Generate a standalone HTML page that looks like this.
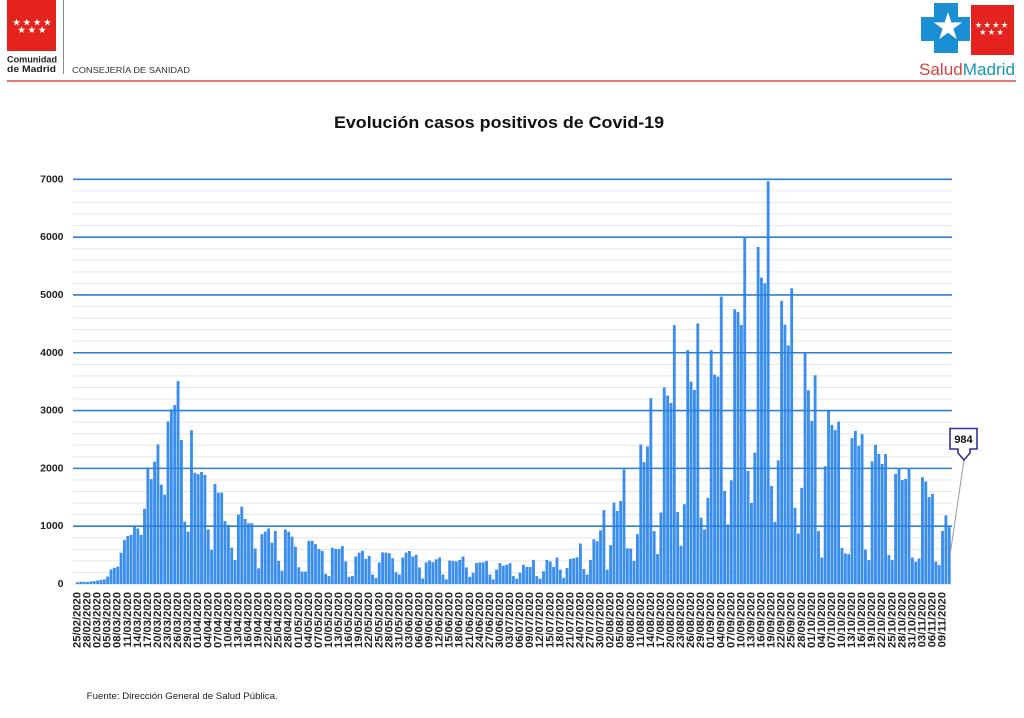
<!DOCTYPE html>
<html><head><meta charset="utf-8">
<style>
html,body{margin:0;padding:0;background:#fff;width:1024px;height:718px;overflow:hidden}
svg{display:block}
</style></head>
<body>
<svg width="1024" height="718" viewBox="0 0 1024 718" xmlns="http://www.w3.org/2000/svg" font-family="'Liberation Sans', sans-serif">
<defs>
<path id="st" d="M0,-1 L0.224,-0.309 L0.951,-0.309 L0.363,0.118 L0.588,0.809 L0,0.382 L-0.588,0.809 L-0.363,0.118 L-0.951,-0.309 L-0.224,-0.309Z" fill="#fff"/>
</defs>

<!-- Left header logo -->
<rect x="7" y="0" width="49" height="51" fill="#e4231e"/>
<use href="#st" transform="translate(16.5,22.5) scale(3.9)"/>
<use href="#st" transform="translate(26.8,22.5) scale(3.9)"/>
<use href="#st" transform="translate(37.1,22.5) scale(3.9)"/>
<use href="#st" transform="translate(47.4,22.5) scale(3.9)"/>
<use href="#st" transform="translate(21.6,30) scale(3.9)"/>
<use href="#st" transform="translate(31.9,30) scale(3.9)"/>
<use href="#st" transform="translate(42.2,30) scale(3.9)"/>
<text x="7" y="62.5" font-size="9.5" font-weight="bold" fill="#222" textLength="50" lengthAdjust="spacingAndGlyphs">Comunidad</text>
<text x="7" y="72" font-size="9.5" font-weight="bold" fill="#222" textLength="49" lengthAdjust="spacingAndGlyphs">de Madrid</text>
<line x1="63.5" y1="0" x2="63.5" y2="74" stroke="#8a8a8a" stroke-width="1"/>
<text x="72" y="73" font-size="8.6" fill="#333" textLength="118" lengthAdjust="spacingAndGlyphs">CONSEJERÍA DE SANIDAD</text>
<line x1="7" y1="81" x2="1016" y2="81" stroke="#dc4a45" stroke-width="1.6"/>

<!-- Right header logo -->
<path d="M934,3 H958 V17 H970 V41 H958 V53 H934 V41 H921 V17 H934 Z" fill="#1a8fd3"/>
<use href="#st" transform="translate(948,27) scale(15)"/>
<rect x="971" y="5" width="43" height="50" fill="#e4231e"/>
<use href="#st" transform="translate(978.5,25) scale(3.4)"/>
<use href="#st" transform="translate(987.2,25) scale(3.4)"/>
<use href="#st" transform="translate(995.9,25) scale(3.4)"/>
<use href="#st" transform="translate(1004.6,25) scale(3.4)"/>
<use href="#st" transform="translate(982.8,32.3) scale(3.4)"/>
<use href="#st" transform="translate(991.5,32.3) scale(3.4)"/>
<use href="#st" transform="translate(1000.2,32.3) scale(3.4)"/>
<text x="919" y="75" font-size="16.5" textLength="96" lengthAdjust="spacingAndGlyphs"><tspan fill="#d8443c">Salud</tspan><tspan fill="#1796b5">Madrid</tspan></text>

<!-- Title -->
<text x="334" y="128" font-size="17" font-weight="bold" fill="#111" textLength="330" lengthAdjust="spacingAndGlyphs">Evolución casos positivos de Covid-19</text>

<!-- Minor gridlines -->
<g transform="translate(0,584) scale(1,-0.05781)">
<path vector-effect="non-scaling-stroke" stroke="#e6e6e6" stroke-width="1" fill="none" d="M73,200H952M73,400H952M73,600H952M73,800H952M73,1200H952M73,1400H952M73,1600H952M73,1800H952M73,2200H952M73,2400H952M73,2600H952M73,2800H952M73,3200H952M73,3400H952M73,3600H952M73,3800H952M73,4200H952M73,4400H952M73,4600H952M73,4800H952M73,5200H952M73,5400H952M73,5600H952M73,5800H952M73,6200H952M73,6400H952M73,6600H952M73,6800H952"/>
<path vector-effect="non-scaling-stroke" stroke="#d9d9d9" stroke-width="1" fill="none" d="M73,0H952"/>
<!-- Bars -->
<path fill="#3a8ef0" d="M76.05,0 v30h2.85v-30h.503v40h2.85v-40h.503v40h2.85v-40h.503v35h2.85v-35h.503v45h2.85v-45h.503v50h2.85v-50h.503v60h2.85v-60h.503v70h2.85v-70h.503v80h2.85v-80h.503v130h2.85v-130h.503v250h2.85v-250h.503v280h2.85v-280h.503v300h2.85v-300h.503
v540h2.85v-540h.503v760h2.85v-760h.503v830h2.85v-830h.503v850h2.85v-850h.503v1000h2.85v-1000h.503v960h2.85v-960h.503v850h2.85v-850h.503v1300h2.85v-1300h.503v2010h2.85v-2010h.503v1815h2.85v-1815h.503v2115h2.85v-2115h.503v2415h2.85v-2415h.503v1720h2.85v-1720h.503v1545h2.85v-1545h.503v2810h2.85v-2810h.503v3020h2.85v-3020h.503v3095h2.85v-3095h.503v3510h2.85v-3510h.503v2490h2.85v-2490h.503v1080h2.85v-1080h.503v905h2.85v-905h.503v2660h2.85v-2660h.503v1925h2.85v-1925h.503v1900h2.85v-1900h.503v1940h2.85v-1940h.503v1885h2.85v-1885h.503v945h2.85v-945h.503v590h2.85v-590h.503v1730h2.85v-1730h.503v1580h2.85v-1580h.503v1580h2.85v-1580h.503v1090h2.85v-1090h.503v1020h2.85v-1020h.503v630h2.85v-630h.503v415h2.85v-415h.503v1205h2.85v-1205h.503v1337h2.85v-1337h.503v1125h2.85v-1125h.503v1050h2.85v-1050h.503v1050h2.85v-1050h.503v615h2.85v-615h.503v270h2.85v-270h.503v860h2.85v-860h.503v905h2.85v-905h.503v960h2.85v-960h.503v715h2.85v-715h.503v920h2.85v-920h.503v400h2.85v-400h.503v230h2.85v-230h.503v945h2.85v-945h.503v905h2.85v-905h.503v820h2.85v-820h.503v645h2.85v-645h.503v290h2.85v-290h.503v215h2.85v-215h.503v215h2.85v-215h.503v745h2.85v-745h.503v745h2.85v-745h.503v690h2.85v-690h.503v605h2.85v-605h.503
v576h2.85v-576h.503v175h2.85v-175h.503v136h2.85v-136h.503v627h2.85v-627h.503v605h2.85v-605h.503v605h2.85v-605h.503v655h2.85v-655h.503v390h2.85v-390h.503v124h2.85v-124h.503v136h2.85v-136h.503v475h2.85v-475h.503v542h2.85v-542h.503v576h2.85v-576h.503v435h2.85v-435h.503v486h2.85v-486h.503v164h2.85v-164h.503v107h2.85v-107h.503v373h2.85v-373h.503v548h2.85v-548h.503v542h2.85v-542h.503v531h2.85v-531h.503v446h2.85v-446h.503v203h2.85v-203h.503v164h2.85v-164h.503v458h2.85v-458h.503v542h2.85v-542h.503v570h2.85v-570h.503v475h2.85v-475h.503v503h2.85v-503h.503v288h2.85v-288h.503v96h2.85v-96h.503v373h2.85v-373h.503v407h2.85v-407h.503v379h2.85v-379h.503v429h2.85v-429h.503v458h2.85v-458h.503v164h2.85v-164h.503v79h2.85v-79h.503v407h2.85v-407h.503v401h2.85v-401h.503v390h2.85v-390h.503v418h2.85v-418h.503v475h2.85v-475h.503v288h2.85v-288h.503v124h2.85v-124h.503v192h2.85v-192h.503v362h2.85v-362h.503v373h2.85v-373h.503v373h2.85v-373h.503v401h2.85v-401h.503v164h2.85v-164h.503v79h2.85v-79h.503v249h2.85v-249h.503v362h2.85v-362h.503v316h2.85v-316h.503v333h2.85v-333h.503v362h2.85v-362h.503v136h2.85v-136h.503v90h2.85v-90h.503v192h2.85v-192h.503v333h2.85v-333h.503v294h2.85v-294h.503v294h2.85v-294h.503v418h2.85v-418h.503v136h2.85v-136h.503v90h2.85v-90h.503v220h2.85v-220h.503v418h2.85v-418h.503v390h2.85v-390h.503v294h2.85v-294h.503v458h2.85v-458h.503v249h2.85v-249h.503v107h2.85v-107h.503v277h2.85v-277h.503v435h2.85v-435h.503v446h2.85v-446h.503v463h2.85v-463h.503v700h2.85v-700h.503v260h2.85v-260h.503v164h2.85v-164h.503v418h2.85v-418h.503v774h2.85v-774h.503v740h2.85v-740h.503v927h2.85v-927h.503v1277h2.85v-1277h.503v249h2.85v-249h.503v672h2.85v-672h.503v1407h2.85v-1407h.503v1265h2.85v-1265h.503v1435h2.85v-1435h.503v1980h2.85v-1980h.503
v616h2.85v-616h.503
v615h2.85v-615h.503v397h2.85v-397h.503v862h2.85v-862h.503v2414h2.85v-2414h.503v2109h2.85v-2109h.503v2379h2.85v-2379h.503v3213h2.85v-3213h.503v914h2.85v-914h.503v517h2.85v-517h.503v1236h2.85v-1236h.503v3402h2.85v-3402h.503v3259h2.85v-3259h.503v3132h2.85v-3132h.503v4477h2.85v-4477h.503v1247h2.85v-1247h.503v661h2.85v-661h.503v1379h2.85v-1379h.503v4046h2.85v-4046h.503v3500h2.85v-3500h.503v3356h2.85v-3356h.503v4506h2.85v-4506h.503v1149h2.85v-1149h.503v943h2.85v-943h.503v1489h2.85v-1489h.503v4046h2.85v-4046h.503v3621h2.85v-3621h.503v3586h2.85v-3586h.503v4970h2.85v-4970h.503v1609h2.85v-1609h.503v1029h2.85v-1029h.503v1793h2.85v-1793h.503v4753h2.85v-4753h.503v4707h2.85v-4707h.503v4483h2.85v-4483h.503v6000h2.85v-6000h.503v1954h2.85v-1954h.503v1402h2.85v-1402h.503v2270h2.85v-2270h.503v5830h2.85v-5830h.503v5300h2.85v-5300h.503v5200h2.85v-5200h.503v6970h2.85v-6970h.503v1695h2.85v-1695h.503v1075h2.85v-1075h.503v2138h2.85v-2138h.503
v4897h2.85v-4897h.503v4484h2.85v-4484h.503v4128h2.85v-4128h.503v5115h2.85v-5115h.503v1319h2.85v-1319h.503v872h2.85v-872h.503v1663h2.85v-1663h.503v3997h2.85v-3997h.503v3349h2.85v-3349h.503v2821h2.85v-2821h.503v3612h2.85v-3612h.503v917h2.85v-917h.503v459h2.85v-459h.503v2036h2.85v-2036h.503v2993h2.85v-2993h.503v2752h2.85v-2752h.503v2661h2.85v-2661h.503v2810h2.85v-2810h.503v625h2.85v-625h.503v528h2.85v-528h.503v516h2.85v-516h.503v2523h2.85v-2523h.503v2649h2.85v-2649h.503v2391h2.85v-2391h.503v2592h2.85v-2592h.503v596h2.85v-596h.503v413h2.85v-413h.503v2122h2.85v-2122h.503v2408h2.85v-2408h.503v2248h2.85v-2248h.503v2076h2.85v-2076h.503v2248h2.85v-2248h.503v499h2.85v-499h.503v413h2.85v-413h.503v1904h2.85v-1904h.503v1990h2.85v-1990h.503v1800h2.85v-1800h.503v1818h2.85v-1818h.503v1990h2.85v-1990h.503v459h2.85v-459h.503v384h2.85v-384h.503v442h2.85v-442h.503v1846h2.85v-1846h.503v1772h2.85v-1772h.503v1502h2.85v-1502h.503v1560h2.85v-1560h.503v384h2.85v-384h.503v327h2.85v-327h.503v917h2.85v-917h.503v1187h2.85v-1187h.503v984h2.85v-984h.503 Z"/>
<!-- Major gridlines (on top) -->
<path vector-effect="non-scaling-stroke" stroke="#2f7fd6" stroke-width="1.6" fill="none" d="M73,1000H952M73,2000H952M73,3000H952M73,4000H952M73,5000H952M73,6000H952M73,7000H952"/>
</g>

<!-- Y axis labels -->
<g font-size="10.5" font-weight="bold" fill="#222" text-anchor="end" dominant-baseline="central">
<text x="63.5" y="584">0</text>
<text x="63.5" y="526.2">1000</text>
<text x="63.5" y="468.4">2000</text>
<text x="63.5" y="410.6">3000</text>
<text x="63.5" y="352.8">4000</text>
<text x="63.5" y="295">5000</text>
<text x="63.5" y="237.1">6000</text>
<text x="63.5" y="179.3">7000</text>
</g>

<!-- X axis labels -->
<g transform="rotate(-90)" font-size="11.2" font-weight="bold" fill="#222" text-anchor="end" dominant-baseline="central">
<text x="-592" y="77.5">25/02/2020</text>
<text x="-592" y="87.56">28/02/2020</text>
<text x="-592" y="97.62">02/03/2020</text>
<text x="-592" y="107.68">05/03/2020</text>
<text x="-592" y="117.74">08/03/2020</text>
<text x="-592" y="127.8">11/03/2020</text>
<text x="-592" y="137.85">14/03/2020</text>
<text x="-592" y="147.91">17/03/2020</text>
<text x="-592" y="157.97">20/03/2020</text>
<text x="-592" y="168.03">23/03/2020</text>
<text x="-592" y="178.09">26/03/2020</text>
<text x="-592" y="188.15">29/03/2020</text>
<text x="-592" y="198.21">01/04/2020</text>
<text x="-592" y="208.27">04/04/2020</text>
<text x="-592" y="218.33">07/04/2020</text>
<text x="-592" y="228.39">10/04/2020</text>
<text x="-592" y="238.44">13/04/2020</text>
<text x="-592" y="248.5">16/04/2020</text>
<text x="-592" y="258.56">19/04/2020</text>
<text x="-592" y="268.62">22/04/2020</text>
<text x="-592" y="278.68">25/04/2020</text>
<text x="-592" y="288.74">28/04/2020</text>
<text x="-592" y="298.8">01/05/2020</text>
<text x="-592" y="308.86">04/05/2020</text>
<text x="-592" y="318.92">07/05/2020</text>
<text x="-592" y="328.98">10/05/2020</text>
<text x="-592" y="339.03">13/05/2020</text>
<text x="-592" y="349.09">16/05/2020</text>
<text x="-592" y="359.15">19/05/2020</text>
<text x="-592" y="369.21">22/05/2020</text>
<text x="-592" y="379.27">25/05/2020</text>
<text x="-592" y="389.33">28/05/2020</text>
<text x="-592" y="399.39">31/05/2020</text>
<text x="-592" y="409.45">03/06/2020</text>
<text x="-592" y="419.51">06/06/2020</text>
<text x="-592" y="429.57">09/06/2020</text>
<text x="-592" y="439.62">12/06/2020</text>
<text x="-592" y="449.68">15/06/2020</text>
<text x="-592" y="459.74">18/06/2020</text>
<text x="-592" y="469.8">21/06/2020</text>
<text x="-592" y="479.86">24/06/2020</text>
<text x="-592" y="489.92">27/06/2020</text>
<text x="-592" y="499.98">30/06/2020</text>
<text x="-592" y="510.04">03/07/2020</text>
<text x="-592" y="520.1">06/07/2020</text>
<text x="-592" y="530.16">09/07/2020</text>
<text x="-592" y="540.21">12/07/2020</text>
<text x="-592" y="550.27">15/07/2020</text>
<text x="-592" y="560.33">18/07/2020</text>
<text x="-592" y="570.39">21/07/2020</text>
<text x="-592" y="580.45">24/07/2020</text>
<text x="-592" y="590.51">27/07/2020</text>
<text x="-592" y="600.57">30/07/2020</text>
<text x="-592" y="610.63">02/08/2020</text>
<text x="-592" y="620.69">05/08/2020</text>
<text x="-592" y="630.75">08/08/2020</text>
<text x="-592" y="640.8">11/08/2020</text>
<text x="-592" y="650.86">14/08/2020</text>
<text x="-592" y="660.92">17/08/2020</text>
<text x="-592" y="670.98">20/08/2020</text>
<text x="-592" y="681.04">23/08/2020</text>
<text x="-592" y="691.1">26/08/2020</text>
<text x="-592" y="701.16">29/08/2020</text>
<text x="-592" y="711.22">01/09/2020</text>
<text x="-592" y="721.28">04/09/2020</text>
<text x="-592" y="731.34">07/09/2020</text>
<text x="-592" y="741.39">10/09/2020</text>
<text x="-592" y="751.45">13/09/2020</text>
<text x="-592" y="761.51">16/09/2020</text>
<text x="-592" y="771.57">19/09/2020</text>
<text x="-592" y="781.63">22/09/2020</text>
<text x="-592" y="791.69">25/09/2020</text>
<text x="-592" y="801.75">28/09/2020</text>
<text x="-592" y="811.81">01/10/2020</text>
<text x="-592" y="821.87">04/10/2020</text>
<text x="-592" y="831.93">07/10/2020</text>
<text x="-592" y="841.98">10/10/2020</text>
<text x="-592" y="852.04">13/10/2020</text>
<text x="-592" y="862.1">16/10/2020</text>
<text x="-592" y="872.16">19/10/2020</text>
<text x="-592" y="882.22">22/10/2020</text>
<text x="-592" y="892.28">25/10/2020</text>
<text x="-592" y="902.34">28/10/2020</text>
<text x="-592" y="912.4">31/10/2020</text>
<text x="-592" y="922.46">03/11/2020</text>
<text x="-592" y="932.52">06/11/2020</text>
<text x="-592" y="942.57">09/11/2020</text>
</g>

<!-- Annotation 984 -->
<line x1="964" y1="460" x2="950" y2="555" stroke="#9a9a9a" stroke-width="1"/>
<polygon points="950,428.5 977,428.5 977,449 970,449 970,453 964,460 958,453 958,449 950,449" fill="#fff" stroke="#35309a" stroke-width="1.6" stroke-linejoin="miter"/>
<text x="963.5" y="443" font-size="11" font-weight="bold" fill="#111" text-anchor="middle">984</text>

<!-- Footer -->
<text x="86.7" y="699" font-size="9.5" fill="#222" textLength="191" lengthAdjust="spacingAndGlyphs">Fuente: Dirección General de Salud Pública.</text>
</svg>
</body></html>
